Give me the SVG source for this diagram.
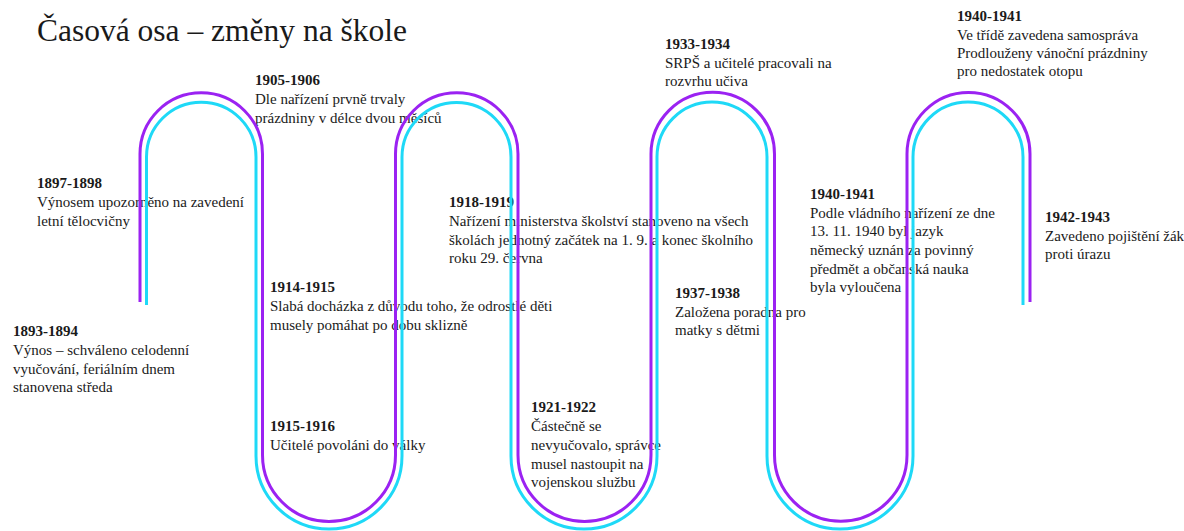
<svg xmlns="http://www.w3.org/2000/svg" width="1184" height="531" viewBox="0 0 1184 531">
  <style>
    text { font-family: "Liberation Serif", "Times New Roman", serif; fill: #1a1a1a; }
    .title { font-size: 31.5px; }
    .ev text { font-size: 15px; }
    .ev .yr { font-weight: bold; }
    .wave { fill: none; stroke-width: 3; stroke-linecap: butt; }
    .purple { stroke: #9b22f2; }
    .cyan { stroke: #1ed9f7; }
  </style>
  <rect width="1184" height="531" fill="#ffffff"/>

  <text class="title" x="37" y="41">Časová osa – změny na škole</text>

  <g id="ev-1893" class="ev">
    <text x="13" y="336" class="yr">1893-1894</text>
    <text x="13" y="355">Výnos – schváleno celodenní</text>
    <text x="13" y="374">vyučování, feriálním dnem</text>
    <text x="13" y="392">stanovena středa</text>
  </g>
  <g id="ev-1897" class="ev">
    <text x="37" y="188" class="yr">1897-1898</text>
    <text x="37" y="207">Výnosem upozorněno na zavedení</text>
    <text x="37" y="226">letní tělocvičny</text>
  </g>
  <g id="ev-1905" class="ev">
    <text x="255" y="85" class="yr">1905-1906</text>
    <text x="255" y="104">Dle nařízení prvně trvaly</text>
    <text x="255" y="123">prázdniny v délce dvou měsíců</text>
  </g>
  <g id="ev-1914" class="ev">
    <text x="270" y="292" class="yr">1914-1915</text>
    <text x="270" y="311">Slabá docházka z důvodu toho, že odrostlé děti</text>
    <text x="270" y="330">musely pomáhat po dobu sklizně</text>
  </g>
  <g id="ev-1915" class="ev">
    <text x="270" y="431" class="yr">1915-1916</text>
    <text x="270" y="450">Učitelé povoláni do války</text>
  </g>
  <g id="ev-1918" class="ev">
    <text x="449" y="207" class="yr">1918-1919</text>
    <text x="449" y="226">Nařízení ministerstva školství stanoveno na všech</text>
    <text x="449" y="245">školách jednotný začátek na 1. 9. a konec školního</text>
    <text x="449" y="263">roku 29. června</text>
  </g>
  <g id="ev-1921" class="ev">
    <text x="531" y="412" class="yr">1921-1922</text>
    <text x="531" y="431">Částečně se</text>
    <text x="531" y="450">nevyučovalo, správce</text>
    <text x="531" y="469">musel nastoupit na</text>
    <text x="531" y="487">vojenskou službu</text>
  </g>
  <g id="ev-1933" class="ev">
    <text x="665" y="49" class="yr">1933-1934</text>
    <text x="665" y="68">SRPŠ a učitelé pracovali na</text>
    <text x="665" y="86">rozvrhu učiva</text>
  </g>
  <g id="ev-1937" class="ev">
    <text x="675" y="298" class="yr">1937-1938</text>
    <text x="675" y="317">Založena poradna pro</text>
    <text x="675" y="335">matky s dětmi</text>
  </g>
  <g id="ev-1940a" class="ev">
    <text x="810" y="199" class="yr">1940-1941</text>
    <text x="810" y="218">Podle vládního nařízení ze dne</text>
    <text x="810" y="236">13. 11. 1940 byl jazyk</text>
    <text x="810" y="255">německý uznán za povinný</text>
    <text x="810" y="274">předmět a občanská nauka</text>
    <text x="810" y="292">byla vyloučena</text>
  </g>
  <g id="ev-1940b" class="ev">
    <text x="957" y="21" class="yr">1940-1941</text>
    <text x="957" y="40">Ve třídě zavedena samospráva</text>
    <text x="957" y="58">Prodlouženy vánoční prázdniny</text>
    <text x="957" y="76">pro nedostatek otopu</text>
  </g>
  <g id="ev-1942" class="ev">
    <text x="1045" y="222" class="yr">1942-1943</text>
    <text x="1045" y="241">Zavedeno pojištění žák</text>
    <text x="1045" y="259">proti úrazu</text>
  </g>

  <!-- serpentine timeline: two parallel strokes -->
  <g id="connectors">
    <path class="wave purple" d="M140 302 V154 A61.25 61.25 0 0 1 262.5 154 V455 A66.5 66.5 0 0 0 395.5 455 V154 A61.25 61.25 0 0 1 518 154 V455 A66.5 66.5 0 0 0 651 455 V154 A61.75 61.75 0 0 1 774.5 154 V455 A66.25 66.25 0 0 0 907 455 V154 A61.5 61.5 0 0 1 1030 154 V302"/>
    <path class="wave cyan" d="M146.5 305 V157 A54.75 54.75 0 0 1 256 157 V456 A73 73 0 0 0 402 456 V157 A54.5 54.5 0 0 1 511 157 V456 A73 73 0 0 0 657 456 V157 A55 55 0 0 1 767 157 V456 A73 73 0 0 0 913 456 V157 A55 55 0 0 1 1023 157 V305"/>
  </g>
</svg>
